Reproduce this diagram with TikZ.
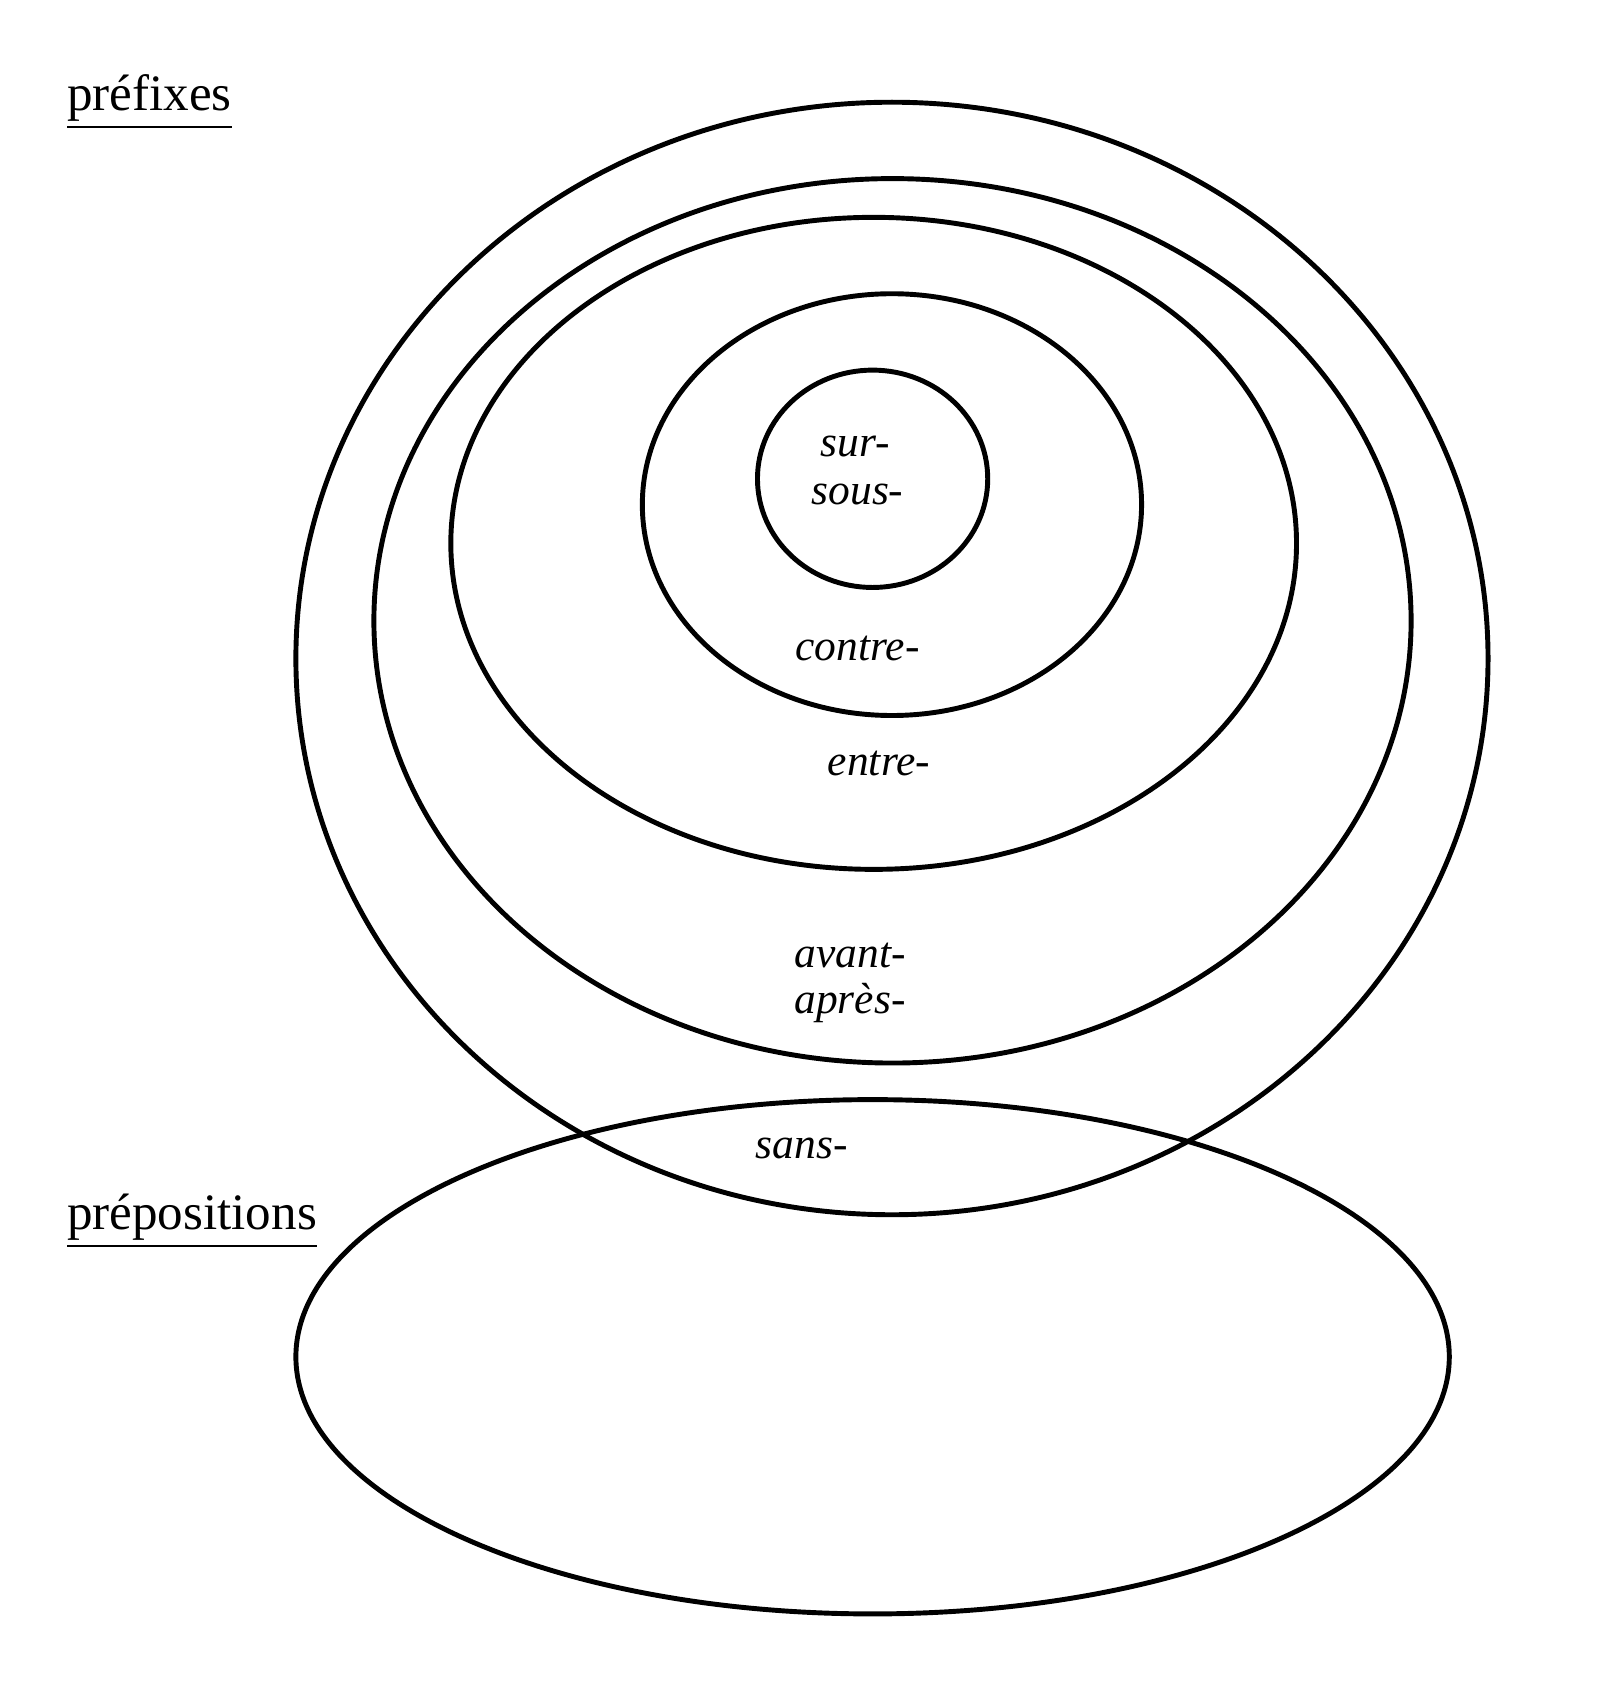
\documentclass[tikz,border=0pt]{standalone}
\usepackage{fontspec}
\setmainfont{Liberation Serif}
\begin{document}
\begin{tikzpicture}[x=0.01cm,y=-0.01cm,
  ell/.style={draw,line width=1.3pt},
  lab/.style={font=\fontsize{11.5}{13}\selectfont\itshape},
  title/.style={font=\fontsize{13.5}{16}\selectfont,anchor=base west}]
\useasboundingbox (0,0) rectangle (1500,1567);
\draw[ell] (829,612) ellipse [x radius=554, y radius=517];
\draw[ell] (829.5,577) ellipse [x radius=482, y radius=411];
\draw[ell] (812,505) ellipse [x radius=393, y radius=303];
\draw[ell] (829,469) ellipse [x radius=232, y radius=196];
\draw[ell] (811,445) ellipse [x radius=107, y radius=101];
\draw[ell] (811,1261) ellipse [x radius=536, y radius=239];
\node[title] (pf) at (50,103) {\underline{préfixes}};
\node[title] (pp) at (50,1143) {\underline{prépositions}};
\node[lab] (sur) at (795,415) {sur-};
\node[lab] (sous) at (797,460) {sous-};
\node[lab] (contre) at (797,603) {contre-};
\node[lab] (entre) at (817,710) {entre-};
\node[lab] (avant) at (790,888) {avant-};
\node[lab] (apres) at (790,932) {après-};
\node[lab] (sans) at (745,1067) {sans-};
\end{tikzpicture}
\end{document}
